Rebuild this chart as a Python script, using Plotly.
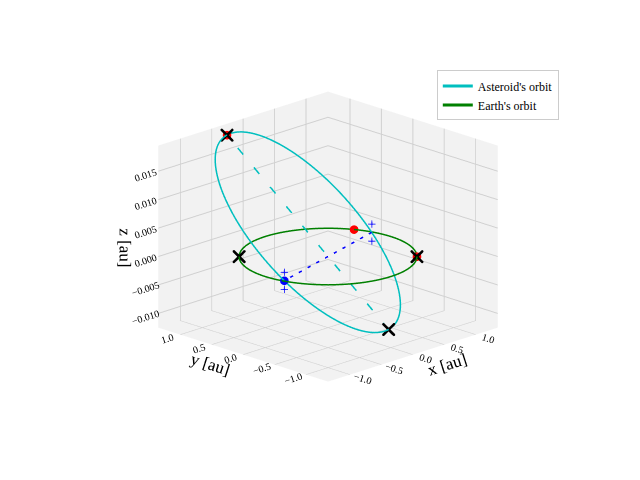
import numpy as np
import plotly.graph_objects as go

# asteroid orbital elements
a_ast = 1.05         # au
e_ast = 0.25
inc_deg = 0.79
node_dir_deg = 15.0    # ascending node direction

# earth orbit
r_earth = 1.0

# marked positions (angles in degrees)
earth_black_x_deg = [135.0, -45.0]
earth_red_deg = [28.0, -45.0]
plus_offset = [0.0015, -0.0015]

FONT = "Liberation Serif"


def ast_pos(nu):
    r = a_ast * (1 - e_ast**2) / (1 + e_ast * np.cos(nu))
    u = nu - np.pi / 2  # argument of latitude (omega = -90 deg)
    node = np.radians(node_dir_deg)
    i = np.radians(inc_deg)
    x = r * (np.cos(node) * np.cos(u) - np.sin(node) * np.sin(u) * np.cos(i))
    y = r * (np.sin(node) * np.cos(u) + np.cos(node) * np.sin(u) * np.cos(i))
    z = r * np.sin(u) * np.sin(i)
    return x, y, z


nu = np.linspace(0, 2 * np.pi, 400)
ax_, ay_, az_ = ast_pos(nu)
th = np.linspace(0, 2 * np.pi, 400)
ex, ey, ez = r_earth * np.cos(th), r_earth * np.sin(th), 0 * th

apsides = ast_pos(np.array([0.0, np.pi]))
nodes = ast_pos(np.array([np.pi / 2, -np.pi / 2]))

fig = go.Figure()
fig.add_trace(go.Scatter3d(x=ax_, y=ay_, z=az_, mode="lines", line=dict(color="#00bfbf", width=3),
                           name="Asteroid's orbit"))
fig.add_trace(go.Scatter3d(x=ex, y=ey, z=ez, mode="lines", line=dict(color="green", width=3),
                           name="Earth's orbit"))
fig.add_trace(go.Scatter3d(x=apsides[0], y=apsides[1], z=apsides[2], mode="lines",
                           line=dict(color="#00bfbf", width=3, dash="longdash"), showlegend=False))
fig.add_trace(go.Scatter3d(x=nodes[0], y=nodes[1], z=nodes[2], mode="lines",
                           line=dict(color="blue", width=3, dash="longdash"), showlegend=False))
fig.add_trace(go.Scatter3d(x=[nodes[0][1]], y=[nodes[1][1]], z=[0], mode="markers",
                           marker=dict(color="blue", size=5), showlegend=False))
px, py, pz = [], [], []
for k in range(2):
    for off in plus_offset:
        px.append(nodes[0][k]); py.append(nodes[1][k]); pz.append(off)
fig.add_trace(go.Scatter3d(x=px, y=py, z=pz, mode="markers",
                           marker=dict(color="blue", size=4, symbol="cross"), showlegend=False))
rd = np.radians(earth_red_deg)
fig.add_trace(go.Scatter3d(x=list(np.cos(rd)) + [apsides[0][1]], y=list(np.sin(rd)) + [apsides[1][1]],
                           z=[0, 0, apsides[2][1]], mode="markers",
                           marker=dict(color="red", size=5), showlegend=False))
bd = np.radians(earth_black_x_deg)
fig.add_trace(go.Scatter3d(x=list(np.cos(bd)) + list(apsides[0]), y=list(np.sin(bd)) + list(apsides[1]),
                           z=[0, 0] + list(apsides[2]), mode="markers",
                           marker=dict(color="black", size=3, symbol="x"), showlegend=False))

axis_style = dict(backgroundcolor="#f2f2f2", showbackground=True, gridcolor="#d0d0d0",
                  zeroline=False, tickfont=dict(size=11, family=FONT), showspikes=False)
ticks = [-1, -0.5, 0, 0.5, 1]
ticktext = ["−1.0", "−0.5", "0.0", "0.5", "1.0"]
fig.update_layout(
    width=640, height=480, paper_bgcolor="white",
    font=dict(family=FONT, color="black"),
    margin=dict(l=0, r=0, t=0, b=0),
    scene=dict(
        xaxis=dict(title=dict(text="x [au]", font=dict(size=17)), tickvals=ticks, ticktext=ticktext,
                   range=[-1.35, 1.35], **axis_style),
        yaxis=dict(title=dict(text="y [au]", font=dict(size=17)), tickvals=ticks, ticktext=ticktext,
                   range=[-1.35, 1.35], **axis_style),
        zaxis=dict(title=dict(text="z [au]", font=dict(size=17)),
                   tickvals=[-0.01, -0.005, 0, 0.005, 0.01, 0.015],
                   ticktext=["−0.010", "−0.005", "0.000", "0.005", "0.010", "0.015"],
                   range=[-0.0125, 0.0195], **axis_style),
        aspectmode="manual", aspectratio=dict(x=1, y=1, z=0.8),
        camera=dict(eye=dict(x=-0.78, y=-0.78, z=0.32), center=dict(x=0, y=0, z=-0.05),
                    projection=dict(type="orthographic")),
        domain=dict(x=[0.0, 1.0], y=[0.0, 1.0]),
    ),
    legend=dict(x=0.67, y=0.87, xanchor="left", yanchor="top", bordercolor="#cccccc", borderwidth=1,
                bgcolor="white", font=dict(size=12)),
)
fig.write_html("out.html")
